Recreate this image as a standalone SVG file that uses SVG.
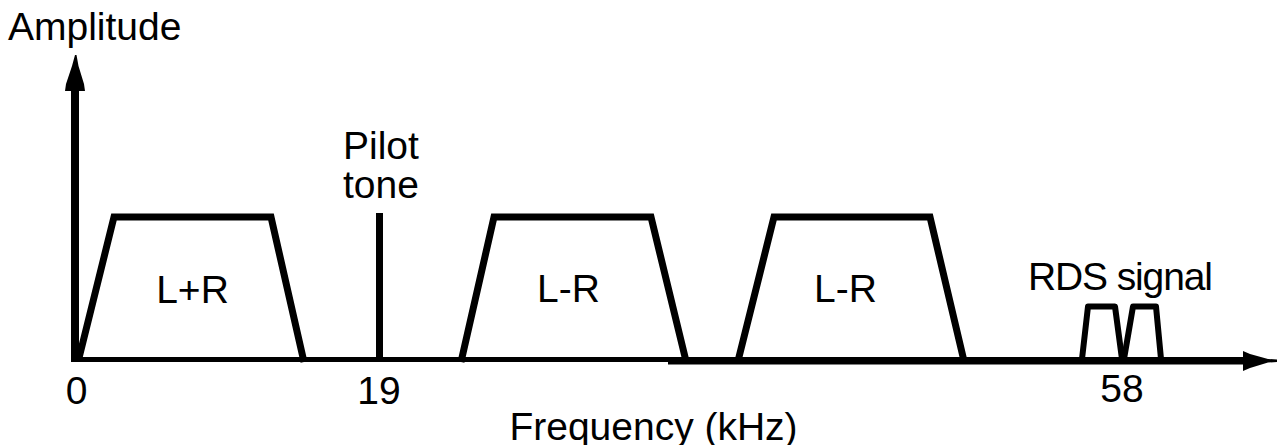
<svg xmlns="http://www.w3.org/2000/svg" width="1285" height="445" viewBox="0 0 1285 445">
<style>
.t{font-family:"Liberation Sans",Arial,sans-serif;font-size:39px;fill:#000}
.m{text-anchor:middle}
.b{fill:none;stroke:#000;stroke-width:7;stroke-linejoin:miter;stroke-linecap:butt}
.p{fill:none;stroke:#000;stroke-width:6;stroke-linejoin:round;stroke-linecap:butt}
</style>
<rect width="1285" height="445" fill="#fff"/>
<g id="connectors">
  <g id="y-axis">
    <rect x="71" y="88" width="8" height="274" fill="#000"/>
    <polygon points="75,55 76.5,55 78.5,66 84,84 85,91 65,91 66,84 72,66" fill="#000"/>
  </g>
  <g id="x-axis">
    <rect x="71" y="357" width="600" height="5" fill="#000"/>
    <rect x="668" y="357" width="580" height="7.5" fill="#000"/>
    <polygon points="1243,351 1250,354 1268,359 1277,359.5 1277,362 1268,362.5 1250,368 1243,371" fill="#000"/>
  </g>
</g>
<g id="band-lr-sum">
  <polyline class="b" points="79,358 114,217 271,217 304,362"/>
  <text class="t m" x="192.5" y="303">L+R</text>
</g>
<g id="pilot-tone">
  <rect x="376" y="213" width="7" height="149" fill="#000"/>
  <text class="t" x="343" y="159">Pilot</text>
  <text class="t" x="343" y="198">tone</text>
</g>
<g id="band-lr-diff-1">
  <polyline class="b" points="461,362 494,217 651,217 686,361"/>
  <text class="t m" x="568.5" y="302">L-R</text>
</g>
<g id="band-lr-diff-2">
  <polyline class="b" points="738,361 774,217 930,217 964,361"/>
  <text class="t m" x="845.5" y="302">L-R</text>
</g>
<g id="rds-signal">
  <polyline class="p" points="1082,359 1088,306.5 1115,306.5 1122,359"/>
  <polyline class="p" points="1124,359 1133,306.5 1156,306.5 1161,359"/>
  <text class="t" x="1028" y="290" textLength="185">RDS signal</text>
</g>
<g id="labels">
  <text class="t" x="8" y="40">Amplitude</text>
  <text class="t m" x="76.5" y="404">0</text>
  <text class="t m" x="379" y="404">19</text>
  <text class="t m" x="1122" y="402">58</text>
  <text class="t m" x="653.5" y="440">Frequency (kHz)</text>
</g>
</svg>
